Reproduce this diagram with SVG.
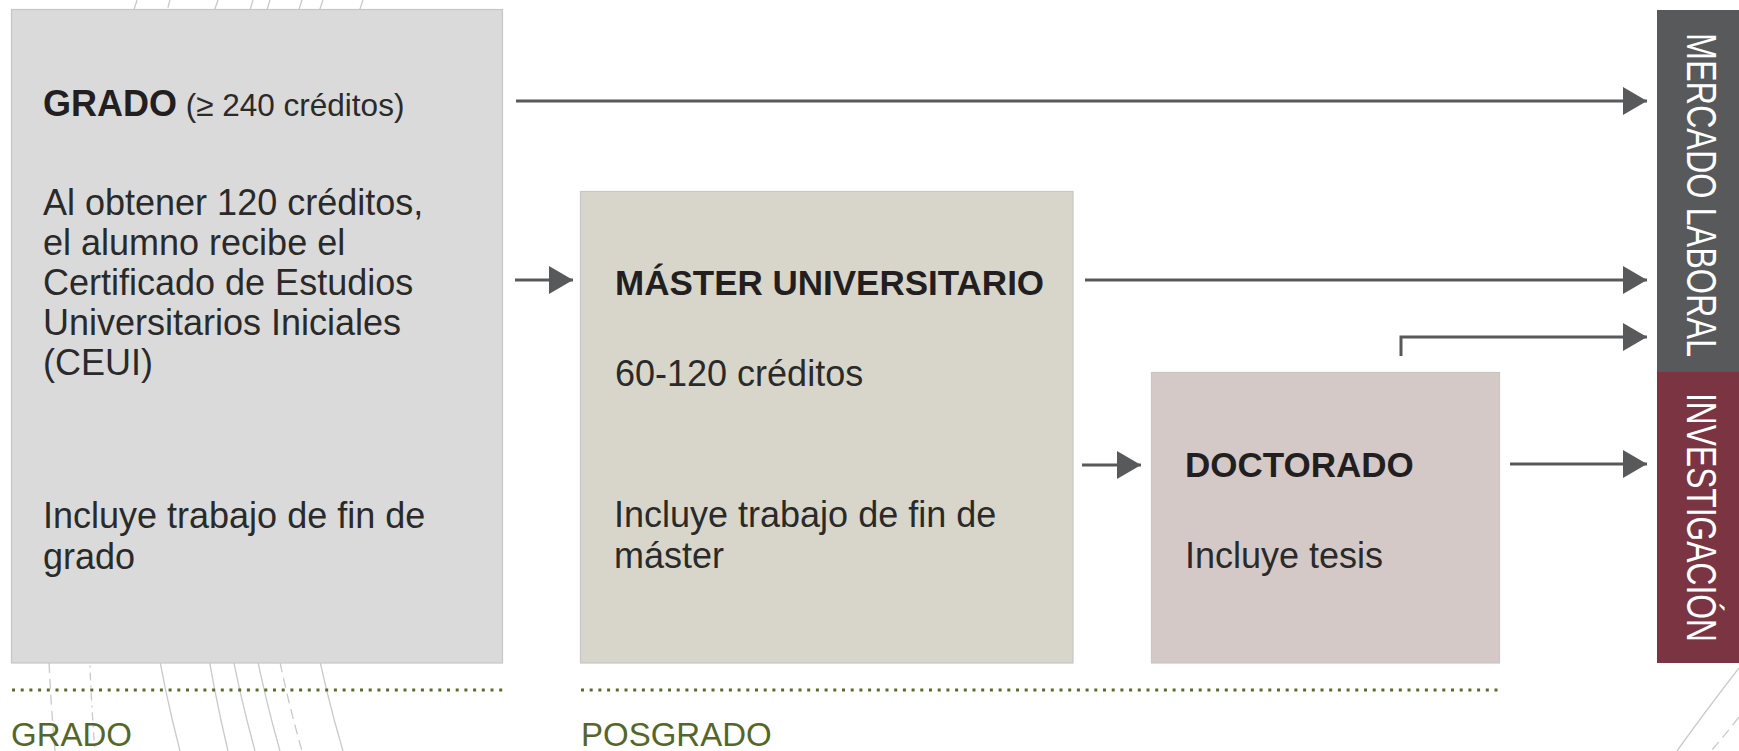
<svg xmlns="http://www.w3.org/2000/svg" width="1739" height="751" viewBox="0 0 1739 751">
<style>
.deco{fill:none;stroke:#c9c9c9;stroke-width:1.3}
.dash{stroke-dasharray:10 6}
.dashdot{stroke-dasharray:8 5 2 5}
.box{stroke:#c6c6c6;stroke-width:1.2}
.conn{fill:none;stroke:#58595b;stroke-width:3}
.title{font-family:"Liberation Sans",Arial,sans-serif;font-weight:bold;font-size:35px;fill:#231f20}
.body{font-family:"Liberation Sans",Arial,sans-serif;font-size:36px;fill:#2a2a2a}
.bar{font-family:"Liberation Sans Narrow","Liberation Sans",Arial,sans-serif;font-size:42px;fill:#ffffff}
.lab{font-family:"Liberation Sans",Arial,sans-serif;font-size:33px;fill:#55662a}
.dots{stroke:#5a6b2a;stroke-width:3;stroke-dasharray:3 5.7}
</style>
<defs>
<marker id="ah" markerWidth="24" markerHeight="28" refX="24" refY="14" orient="auto" markerUnits="userSpaceOnUse">
<path d="M0,0 L24,14 L0,28 Z" fill="#58595b"/>
</marker>
</defs>
<rect width="1739" height="751" fill="#ffffff"/>
<g id="decoration">
<path class="deco dash" d="M137,0 Q21,375 55,751"/>
<path class="deco dashdot" d="M170,0 Q65,375 95,751"/>
<path class="deco" d="M218,0 Q82,375 180,751"/>
<path class="deco" d="M253,0 Q138,375 228,751"/>
<path class="deco" d="M270,0 Q152,375 255,751"/>
<path class="deco" d="M302,0 Q173,375 280,751"/>
<path class="deco dash" d="M323,0 Q195,375 302,751"/>
<path class="deco" d="M363,0 Q232,375 343,751"/>
<path class="deco" d="M1739,668 Q1705,712 1677,751"/>
<path class="deco dash" d="M1739,717 Q1725,735 1711,751"/>
</g>
<g id="grado">
<rect class="box" x="11.5" y="9.5" width="491" height="653.5" fill="#dadada"/>
<text x="43" y="116"><tspan class="title" style="font-size:36px">GRADO</tspan><tspan class="body" style="font-size:31.5px"> (≥ 240 créditos)</tspan></text>
<text class="body" x="43" y="215">Al obtener 120 créditos,</text>
<text class="body" x="43" y="255">el alumno recibe el</text>
<text class="body" x="43" y="295">Certificado de Estudios</text>
<text class="body" x="43" y="335">Universitarios Iniciales</text>
<text class="body" x="43" y="375">(CEUI)</text>
<text class="body" x="43" y="528">Incluye trabajo de fin de</text>
<text class="body" x="43" y="569">grado</text>
</g>
<g id="master">
<rect class="box" x="580.5" y="191.5" width="492.5" height="471.5" fill="#d8d6cb"/>
<text class="title" x="615" y="295">MÁSTER UNIVERSITARIO</text>
<text class="body" x="615" y="386">60-120 créditos</text>
<text class="body" x="614" y="527">Incluye trabajo de fin de</text>
<text class="body" x="614" y="568">máster</text>
</g>
<g id="doctorado">
<rect class="box" x="1151.5" y="372.5" width="348" height="290.5" fill="#d4c9c7"/>
<text class="title" x="1185" y="477">DOCTORADO</text>
<text class="body" x="1185" y="568">Incluye tesis</text>
</g>
<g id="mercado">
<rect x="1657" y="10" width="82" height="362" fill="#58595b"/>
<text class="bar" transform="translate(1687,33) rotate(90)" textLength="324" lengthAdjust="spacingAndGlyphs">MERCADO LABORAL</text>
</g>
<g id="investigacion">
<rect x="1657" y="372" width="82" height="291" fill="#7a3442"/>
<text class="bar" transform="translate(1687,393) rotate(90)" textLength="249" lengthAdjust="spacingAndGlyphs">INVESTIGACIÓN</text>
</g>
<g id="connectors">
<line class="conn" x1="516" y1="101" x2="1647" y2="101" marker-end="url(#ah)"/>
<line class="conn" x1="515" y1="280" x2="573" y2="280" marker-end="url(#ah)"/>
<line class="conn" x1="1085" y1="280" x2="1647" y2="280" marker-end="url(#ah)"/>
<path class="conn" d="M1401,356 V337 H1647" marker-end="url(#ah)"/>
<line class="conn" x1="1082" y1="465" x2="1141" y2="465" marker-end="url(#ah)"/>
<line class="conn" x1="1510" y1="464" x2="1647" y2="464" marker-end="url(#ah)"/>
</g>
<g id="sections">
<line class="dots" x1="12" y1="690" x2="503" y2="690"/>
<line class="dots" x1="581" y1="690" x2="1500" y2="690"/>
<text class="lab" x="11" y="746">GRADO</text>
<text class="lab" x="581" y="746">POSGRADO</text>
</g>
</svg>
